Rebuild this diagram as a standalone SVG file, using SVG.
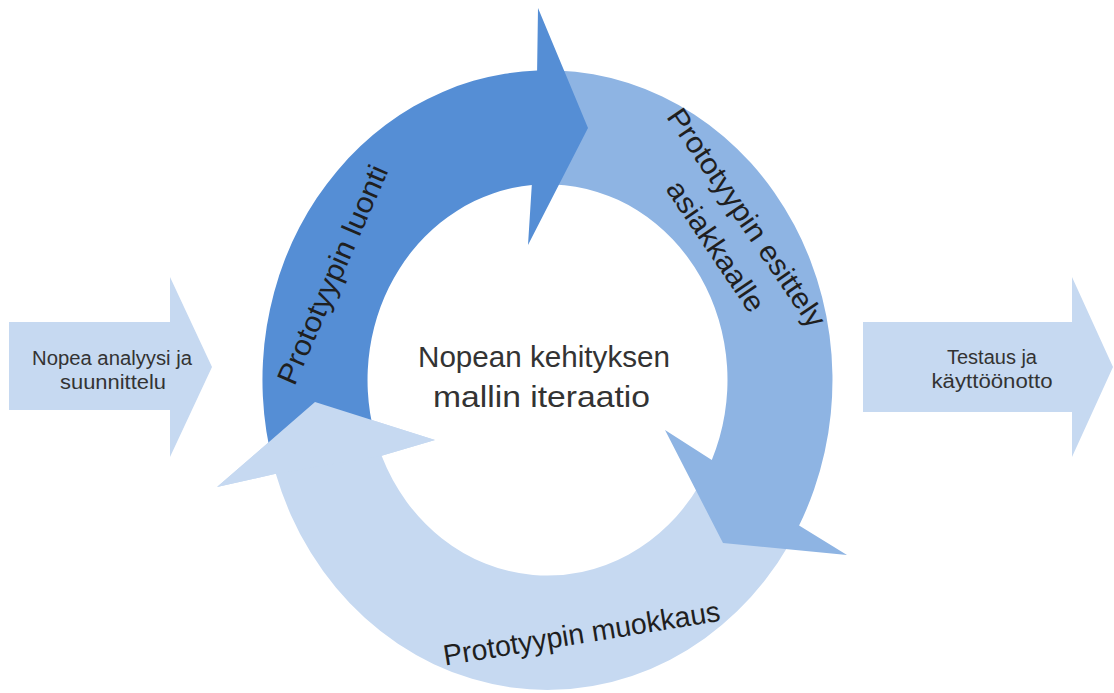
<svg xmlns="http://www.w3.org/2000/svg" width="1114" height="693" viewBox="0 0 1114 693">
  <style>
    .dark { fill: #558ED5; }
    .mid { fill: #8EB4E3; }
    .light { fill: #C6D9F1; }
    .side { fill: #C6D9F1; }
    .lbl { font-family: "Liberation Sans", Arial, sans-serif; fill: #1f1f1f; text-anchor: middle; }
    .ring { font-size: 29px; }
    .ctr { font-size: 30px; fill: #333333; }
    .sm { font-size: 20px; fill: #333333; }
  </style>
  <rect width="1114" height="693" fill="#ffffff"/>

  <g id="input-arrow">
    <polygon class="side" points="9,322 170,322 170,277 212,367 170,457 170,410 9,410"/>
    <text class="lbl sm" x="112" y="365" textLength="160" lengthAdjust="spacingAndGlyphs">Nopea analyysi ja</text>
    <text class="lbl sm" x="113" y="389" textLength="106" lengthAdjust="spacingAndGlyphs">suunnittelu</text>
  </g>

  <g id="output-arrow">
    <polygon class="side" points="863,322 1072,322 1072,277 1113,367 1072,457 1072,412 863,412"/>
    <text class="lbl sm" x="992" y="364" textLength="90" lengthAdjust="spacingAndGlyphs">Testaus ja</text>
    <text class="lbl sm" x="992" y="388" textLength="121" lengthAdjust="spacingAndGlyphs">käyttöönotto</text>
  </g>

  <g id="cycle-connectors">
    <path id="arrow-muokkaus" class="light" d="M 789.2,544.2 A 285 309.8 0 0 1 275.8,473.7 L 217,487 L 315,402 L 435,440 L 381.6,455.8 A 180 195.7 0 0 0 700.1,483.7 Z"/>
    <path id="arrow-esittely" class="mid" d="M 557.4,70.4 A 285 309.8 0 0 1 799.1,525.5 L 847,555 L 723,543 L 665,430 L 711.8,459.9 A 180 195.7 0 0 0 553.8,184.4 Z"/>
    <path id="arrow-luonti" class="dark" d="M 273.5,465.4 A 285 309.8 0 0 1 537.1,70.4 L 538,8 L 588,128 L 528,245 L 531.8,185 A 180 195.7 0 0 0 374.5,433.9 Z"/>
    <polygon id="arrow-muokkaus-head" class="light" points="275.8,473.7 217,487 315,402 435,440 381.6,455.8"/>
  </g>

  <g id="label-luonti" transform="translate(333.3,275) rotate(-66.5)">
    <text class="lbl ring" x="0" y="9" textLength="236" lengthAdjust="spacingAndGlyphs">Prototyypin luonti</text>
  </g>

  <g id="label-esittely">
    <g transform="translate(745.8,218.3) rotate(55.8)">
      <text class="lbl ring" x="0" y="9" textLength="258" lengthAdjust="spacingAndGlyphs">Prototyypin esittely</text>
    </g>
    <g transform="translate(715,246.7) rotate(55.9)">
      <text class="lbl ring" x="0" y="9" textLength="152" lengthAdjust="spacingAndGlyphs">asiakkaalle</text>
    </g>
  </g>

  <g id="label-muokkaus" transform="translate(581.7,634.2) rotate(-9.2)">
    <text class="lbl ring" x="0" y="9" textLength="280" lengthAdjust="spacingAndGlyphs">Prototyypin muokkaus</text>
  </g>

  <g id="center-label">
    <text class="lbl ctr" x="544" y="367" textLength="252" lengthAdjust="spacingAndGlyphs">Nopean kehityksen</text>
    <text class="lbl ctr" x="541.5" y="407" textLength="217" lengthAdjust="spacingAndGlyphs">mallin iteraatio</text>
  </g>
</svg>
